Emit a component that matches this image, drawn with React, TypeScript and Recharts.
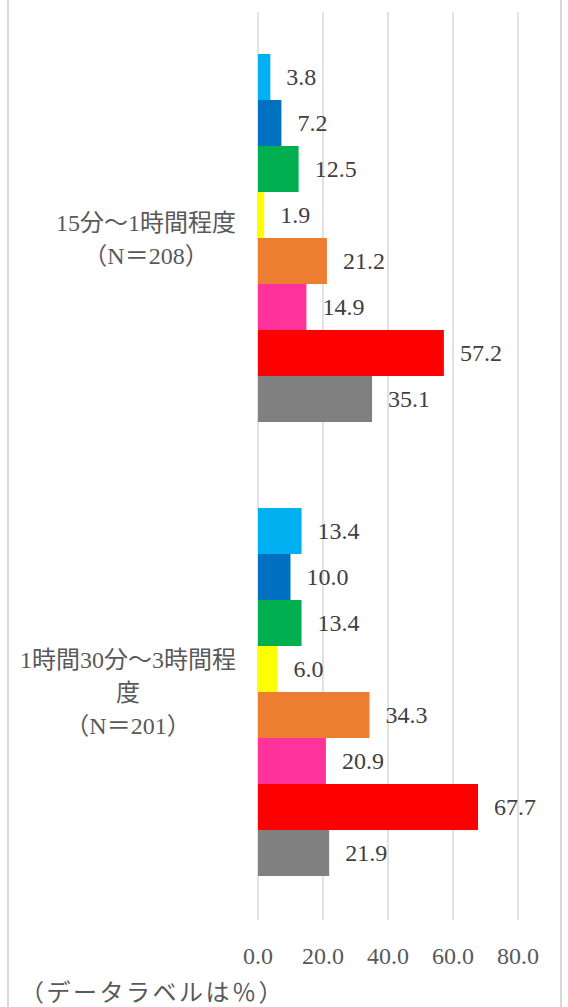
import { Bar, BarChart, CartesianGrid, LabelList, XAxis, YAxis } from 'recharts';

const categories = ['15分～1時間程度\n（N＝208）', '1時間30分～3時間程\n度\n（N＝201）'];

// 8 series, one value per category (%)
const lightBlue = [3.8, 13.4];
const blue = [7.2, 10.0];
const green = [12.5, 13.4];
const yellow = [1.9, 6.0];
const orange = [21.2, 34.3];
const pink = [14.9, 20.9];
const red = [57.2, 67.7];
const gray = [35.1, 21.9];

const seriesKeys = ['lightBlue', 'blue', 'green', 'yellow', 'orange', 'pink', 'red', 'gray'];
const seriesValues = [lightBlue, blue, green, yellow, orange, pink, red, gray];
const seriesColors = ['#00B0F0', '#0070C0', '#00B050', '#FFFF00', '#ED7D31', '#FF3399', '#FF0000', '#808080'];

const xTicks = [0, 20, 40, 60, 80];

const data = categories.map((name, i) => {
  const row: Record<string, string | number> = { name };
  seriesKeys.forEach((k, j) => {
    row[k] = seriesValues[j][i];
  });
  return row;
});

const SERIF = 'Liberation Serif, Tinos, DejaVu Serif, serif, Noto Sans CJK JP';
const LABEL_FS = 24;

function textWidth(s: string) {
  let w = 0;
  for (const ch of s) w += ch.charCodeAt(0) > 0x2000 ? LABEL_FS : LABEL_FS * 0.5;
  return w;
}

/* eslint-disable @typescript-eslint/no-explicit-any */
function CategoryTick({ y, payload }: any) {
  const lines = String(payload.value).split('\n');
  const blockW = Math.max(...lines.map(textWidth));
  const cx = 236 - blockW / 2;
  const lh = 33;
  const y0 = y - ((lines.length - 1) * lh) / 2;
  return (
    <g>
      {lines.map((l, i) => (
        <text
          key={i}
          x={cx}
          y={y0 + i * lh}
          textAnchor="middle"
          dominantBaseline="central"
          fill="#595959"
          fontSize={LABEL_FS}
          fontFamily={SERIF}
          style={{ fontFamily: SERIF }}
        >
          {l}
        </text>
      ))}
    </g>
  );
}

function ValueTick({ x, y, payload }: any) {
  return (
    <text
      x={x}
      y={y + 36}
      textAnchor="middle"
      dominantBaseline="central"
      fill="#595959"
      fontSize={24}
      fontFamily={SERIF}
      style={{ fontFamily: SERIF }}
    >
      {Number(payload.value).toFixed(1)}
    </text>
  );
}

function BarValue({ x, y, width, height, value }: any) {
  return (
    <text
      x={x + width + 16}
      y={y + height / 2}
      textAnchor="start"
      dominantBaseline="central"
      fill="#404040"
      fontSize={24}
      fontFamily={SERIF}
      style={{ fontFamily: SERIF }}
    >
      {Number(value).toFixed(1)}
    </text>
  );
}

export default function App() {
  return (
    <div style={{ position: 'absolute', left: 0, top: 0, width: 568, height: 1007, background: '#fff' }}>
      <div
        style={{
          position: 'absolute',
          left: 7,
          top: 0,
          width: 551,
          height: 1007,
          borderLeft: '2px solid #D9D9D9',
          borderRight: '2px solid #D9D9D9',
        }}
      />
      <BarChart
        width={568}
        height={1007}
        data={data}
        layout="vertical"
        margin={{ top: 12, right: 50, bottom: 0, left: 0 }}
        barCategoryGap="9.25%"
        barGap={0}
        style={{ position: 'absolute', left: 0, top: 0 }}
      >
        <CartesianGrid horizontal={false} stroke="#D9D9D9" strokeWidth={1.5} />
        <XAxis
          type="number"
          domain={[0, 80]}
          ticks={xTicks}
          axisLine={false}
          tickLine={false}
          tickSize={0}
          tickMargin={0}
          height={87}
          tick={<ValueTick />}
          interval={0}
        />
        <YAxis
          type="category"
          dataKey="name"
          width={258}
          axisLine={false}
          tickLine={false}
          tick={<CategoryTick />}
          interval={0}
        />
        {seriesKeys.map((k, j) => (
          <Bar key={k} dataKey={k} fill={seriesColors[j]} isAnimationActive={false}>
            <LabelList dataKey={k} content={<BarValue />} />
          </Bar>
        ))}
      </BarChart>
      <div
        style={{
          position: 'absolute',
          left: 20,
          top: 973,
          fontSize: 24,
          fontFamily: SERIF,
          color: '#595959',
          whiteSpace: 'nowrap',
          letterSpacing: 2.5,
        }}
      >
        （データラベルは％）
      </div>
    </div>
  );
}
